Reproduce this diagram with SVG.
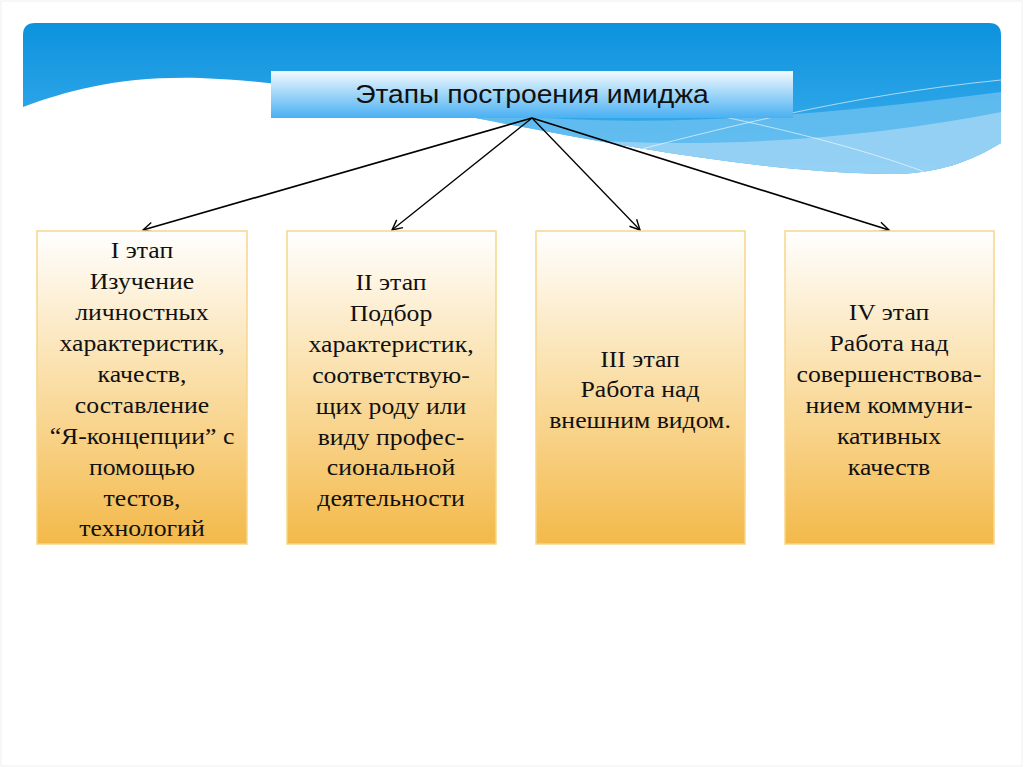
<svg xmlns="http://www.w3.org/2000/svg" width="1024" height="767" viewBox="0 0 1024 767">
<defs>
<linearGradient id="gBlue" x1="0" y1="23" x2="0" y2="175" gradientUnits="userSpaceOnUse">
<stop offset="0" stop-color="#0C92DD"/>
<stop offset="0.5" stop-color="#28A2E6"/>
<stop offset="1" stop-color="#49B4EC"/>
</linearGradient>
<linearGradient id="gTitle" x1="0" y1="0" x2="0" y2="1">
<stop offset="0" stop-color="#F4FAFE"/>
<stop offset="0.45" stop-color="#A6D8F9"/>
<stop offset="1" stop-color="#49B0F3"/>
</linearGradient>
<linearGradient id="gBox" x1="0" y1="0" x2="0" y2="1">
<stop offset="0" stop-color="#FFFFFF"/>
<stop offset="0.5" stop-color="#FADDA3"/>
<stop offset="1" stop-color="#F3B94A"/>
</linearGradient>
<clipPath id="banner">
<path d="M23,35 Q23,23 35,23 L989,23 Q1001,23 1001,35 L1001,143 C970,162 935,175 885,174 C760,172 620,146 470,117 C380,100 300,82 200,78 C120,76 70,90 23,107 Z"/>
</clipPath>
<marker id="arr" viewBox="0 0 12 12" refX="11" refY="6" markerWidth="12" markerHeight="12" markerUnits="userSpaceOnUse" orient="auto">
<path d="M1,1 L11,6 L1,11" fill="none" stroke="#000" stroke-width="1.4"/>
</marker>
<style>
.box{fill:url(#gBox);stroke:#F7D68A;stroke-width:1.5}
.t{font-family:"Liberation Serif","Times New Roman",serif;font-size:23px;fill:#111;text-anchor:middle}
.c{stroke:#000;fill:none;marker-end:url(#arr)}
</style>
</defs>
<rect x="0" y="0" width="1024" height="767" fill="#FFFFFF"/>
<rect x="1" y="1" width="1021" height="765" fill="none" stroke="#F0F0F0" stroke-width="1"/>
<g id="background">
<g clip-path="url(#banner)">
<rect x="23" y="23" width="978" height="160" fill="url(#gBlue)"/>
<path d="M420,104 C600,135 800,118 1001,92 L1001,200 L420,200 Z" fill="#6CC0F0" opacity="0.8"/>
<path d="M560,138 C700,150 860,140 1001,112 L1001,200 L560,200 Z" fill="#A4D7F6" opacity="0.75"/>
<path d="M600,160 C720,128 850,95 1001,80" fill="none" stroke="#FFFFFF" stroke-opacity="0.6" stroke-width="1"/>
<path d="M700,112 C780,128 860,148 925,172" fill="none" stroke="#FFFFFF" stroke-opacity="0.6" stroke-width="1"/>
</g>
</g>
<g id="title">
<rect x="271" y="71" width="522" height="47" fill="url(#gTitle)"/>
<g transform="translate(532,0) scale(1.13,1)">
<text x="0" y="103" style="font-family:'Liberation Sans',Arial,sans-serif;font-size:25px;fill:#111;text-anchor:middle">Этапы построения имиджа</text>
</g>
</g>
<g id="connectors">
<line class="c" x1="532" y1="118" x2="143" y2="230" stroke-width="1.7"/>
<line class="c" x1="532" y1="118" x2="392" y2="230" stroke-width="1.3"/>
<line class="c" x1="532" y1="118" x2="640" y2="230" stroke-width="1.3"/>
<line class="c" x1="532" y1="118" x2="889" y2="230" stroke-width="1.7"/>
</g>
<g id="stage1">
<rect class="box" x="37" y="231" width="210" height="313"/>
<g transform="translate(142,0) scale(1.12,1)">
<text class="t"><tspan x="0" y="258">I этап</tspan><tspan x="0" y="289">Изучение</tspan><tspan x="0" y="320">личностных</tspan><tspan x="0" y="351">характеристик,</tspan><tspan x="0" y="382">качеств,</tspan><tspan x="0" y="413">составление</tspan><tspan x="0" y="444">“Я-концепции” с</tspan><tspan x="0" y="475">помощью</tspan><tspan x="0" y="506">тестов,</tspan><tspan x="0" y="536">технологий</tspan></text>
</g>
</g>
<g id="stage2">
<rect class="box" x="287" y="231" width="209" height="313"/>
<g transform="translate(391,0) scale(1.12,1)">
<text class="t"><tspan x="0" y="290">II этап</tspan><tspan x="0" y="321">Подбор</tspan><tspan x="0" y="352">характеристик,</tspan><tspan x="0" y="383">соответствую-</tspan><tspan x="0" y="414">щих роду или</tspan><tspan x="0" y="445">виду профес-</tspan><tspan x="0" y="475">сиональной</tspan><tspan x="0" y="506">деятельности</tspan></text>
</g>
</g>
<g id="stage3">
<rect class="box" x="536" y="231" width="209" height="313"/>
<g transform="translate(640,0) scale(1.12,1)">
<text class="t"><tspan x="0" y="367">III этап</tspan><tspan x="0" y="397">Работа над</tspan><tspan x="0" y="428">внешним видом.</tspan></text>
</g>
</g>
<g id="stage4">
<rect class="box" x="785" y="231" width="209" height="313"/>
<g transform="translate(889,0) scale(1.12,1)">
<text class="t"><tspan x="0" y="320">IV этап</tspan><tspan x="0" y="351">Работа над</tspan><tspan x="0" y="382">совершенствова-</tspan><tspan x="0" y="413">нием коммуни-</tspan><tspan x="0" y="444">кативных</tspan><tspan x="0" y="475">качеств</tspan></text>
</g>
</g>
</svg>
